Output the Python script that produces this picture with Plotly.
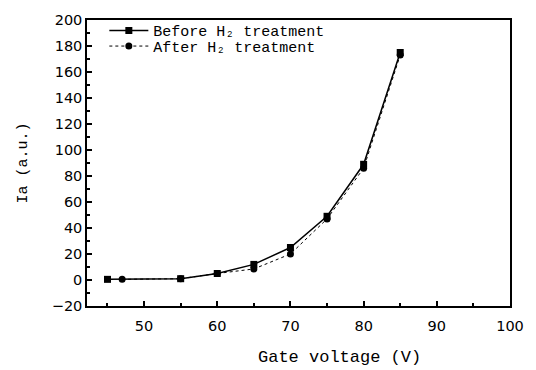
import plotly.graph_objects as go

x_before = [45, 55, 60, 65, 70, 75, 80, 85]
y_before = [0.5, 1, 5, 12, 25, 49, 89, 175]
x_after = [47, 55, 60, 65, 70, 75, 80, 85]
y_after = [0.5, 1, 5, 8.5, 20, 47, 86, 173]

x_ticks = [50, 60, 70, 80, 90, 100]
y_ticks = [-20, 0, 20, 40, 60, 80, 100, 120, 140, 160, 180, 200]

fig = go.Figure()
fig.add_trace(go.Scatter(
    x=x_before, y=y_before, mode="lines+markers",
    name="Before H₂ treatment", legend="legend",
    line=dict(color="black", width=1.5, dash="solid"),
    marker=dict(symbol="square", size=7, color="black"),
))
fig.add_trace(go.Scatter(
    x=x_after, y=y_after, mode="lines+markers",
    name="After H₂ treatment", legend="legend2",
    line=dict(color="black", width=1, dash="dot"),
    marker=dict(symbol="circle", size=7, color="black"),
))

axis_common = dict(
    showgrid=False, zeroline=False, showline=True, linecolor="black",
    linewidth=1.5, mirror=True, ticks="inside", ticklen=5, tickwidth=1.5,
    tickcolor="black",
    tickfont=dict(family="DejaVu Sans", size=14.5, color="black"),
)

fig.update_xaxes(
    range=[42.2, 100], tickvals=x_ticks, ticklabelstandoff=6,
    minor=dict(ticks="inside", ticklen=3, tickcolor="black", dtick=5, tick0=0),
    **axis_common,
)
fig.update_yaxes(
    range=[-20, 200], tickvals=y_ticks,
    minor=dict(ticks="inside", ticklen=3, tickcolor="black", dtick=10, tick0=0),
    title=dict(text="Ia (a.u.)", font=dict(family="Liberation Mono", size=15, color="black"), standoff=20),
    **axis_common,
)

legend_common = dict(
    x=0.041, xanchor="left", yanchor="middle",
    bgcolor="rgba(0,0,0,0)",
    font=dict(family="Liberation Mono", size=15, color="black"),
    itemwidth=39,
)

fig.update_layout(
    width=536, height=370,
    margin=dict(l=87, r=23, t=12, b=64),
    paper_bgcolor="white", plot_bgcolor="white",
    showlegend=True,
    legend=dict(y=0.962, **legend_common),
    legend2=dict(y=0.908, **legend_common),
    annotations=[dict(
        text="Gate voltage (V)", xref="paper", yref="paper",
        x=0.596, y=-0.18, xanchor="center", yanchor="middle", showarrow=False,
        font=dict(family="Liberation Mono", size=17, color="black"),
    )],
)

fig.write_html("out.html")
